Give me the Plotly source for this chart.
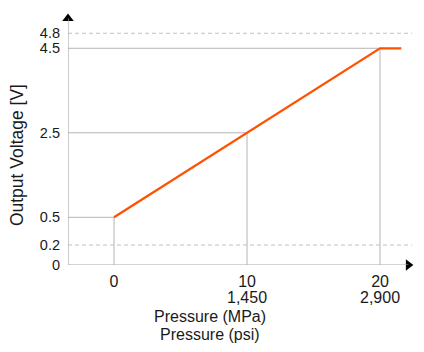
import numpy as np
import plotly.graph_objects as go

# Data
pressure_mpa = [0, 20, 21.6]
voltage_v = [0.5, 4.5, 4.5]
x_ticks_mpa = [0, 10, 20]
x_ticks_psi = ["", "1,450", "2,900"]
y_ticks_v = [0, 0.2, 0.5, 2.5, 4.5, 4.8]
limit_lines_v = [0.2, 4.8]

# schematic (non-linear) voltage scale as drawn in the reference
scale_v = [0, 0.2, 0.5, 4.5, 4.8]
scale_pos = [0, 0.473, 1.129, 5.129, 5.484]
def ypos(v):
    return float(np.interp(v, scale_v, scale_pos))

XMIN, XMAX = -3.46, 22.63
YTOP = 6.035
GRID = "#b4b4b4"
AXIS = "#a8a8a8"
TXT = "#1a1a1a"
FS = 16

fig = go.Figure()
fig.add_trace(go.Scatter(
    x=pressure_mpa, y=[ypos(v) for v in voltage_v], mode="lines",
    line=dict(color="#ff5100", width=2.2), hoverinfo="skip", showlegend=False))

shapes = []
for p in x_ticks_mpa:
    v = float(np.interp(p, pressure_mpa, voltage_v))
    shapes.append(dict(type="line", xref="x", yref="y", x0=p, x1=p, y0=0, y1=ypos(v),
                       line=dict(color=GRID, width=1), layer="below"))
    shapes.append(dict(type="line", xref="x", yref="y", x0=XMIN, x1=p, y0=ypos(v), y1=ypos(v),
                       line=dict(color=GRID, width=1), layer="below"))
for v in limit_lines_v:
    shapes.append(dict(type="line", xref="x", yref="y", x0=XMIN, x1=22.4, y0=ypos(v), y1=ypos(v),
                       line=dict(color="#c0c0c0", width=1, dash="4px,3px"), layer="below"))
shapes.append(dict(type="line", xref="x", yref="y", x0=XMIN, x1=XMIN, y0=0, y1=YTOP - 0.2,
                   line=dict(color=AXIS, width=1.2)))
shapes.append(dict(type="line", xref="x", yref="y", x0=XMIN, x1=XMAX - 0.5, y0=0, y1=0,
                   line=dict(color=AXIS, width=1.2)))
fig.update_layout(shapes=shapes)

fig.add_trace(go.Scatter(x=[XMIN], y=[YTOP - 0.2], mode="markers",
                         marker=dict(symbol="triangle-up", size=10, color="black"),
                         hoverinfo="skip", showlegend=False, cliponaxis=False))
fig.add_trace(go.Scatter(x=[XMAX - 0.5], y=[0], mode="markers",
                         marker=dict(symbol="triangle-right", size=10, color="black"),
                         hoverinfo="skip", showlegend=False, cliponaxis=False))

fig.update_xaxes(range=[XMIN, XMAX], showgrid=False, zeroline=False, showline=False,
                 tickvals=x_ticks_mpa, ticktext=[str(m) for m in x_ticks_mpa],
                 ticks="", ticklabelstandoff=5,
                 tickfont=dict(size=FS, color=TXT))
fig.update_yaxes(range=[0, YTOP], showgrid=False, zeroline=False, showline=False,
                 tickvals=[ypos(v) for v in y_ticks_v],
                 ticktext=[f"{v:g}" for v in y_ticks_v],
                 ticks="", ticklabelstandoff=7,
                 tickfont=dict(size=14.5, color=TXT))

for m, p in zip(x_ticks_mpa, x_ticks_psi):
    if p:
        fig.add_annotation(text=p, xref="x", yref="paper", x=m, y=-0.1294,
                           xanchor="center", yanchor="middle", showarrow=False,
                           font=dict(size=FS, color=TXT))
fig.add_annotation(text="Pressure (MPa)", xref="paper", yref="paper",
                   x=0.409, y=-0.2039, xanchor="center", yanchor="middle", showarrow=False,
                   font=dict(size=FS, color=TXT))
fig.add_annotation(text="Pressure (psi)", xref="paper", yref="paper",
                   x=0.409, y=-0.2745, xanchor="center", yanchor="middle", showarrow=False,
                   font=dict(size=FS, color=TXT))
fig.add_annotation(text="Output Voltage [V]", xref="paper", yref="paper",
                   x=-0.147, y=0.431, textangle=-90, xanchor="center", yanchor="middle",
                   showarrow=False, font=dict(size=17.5, color=TXT))

fig.update_layout(width=424, height=352, margin=dict(l=68, r=9, t=10, b=87),
                  paper_bgcolor="white", plot_bgcolor="white",
                  font=dict(family="Liberation Sans, Arial, sans-serif"))
fig.write_html("out.html")
